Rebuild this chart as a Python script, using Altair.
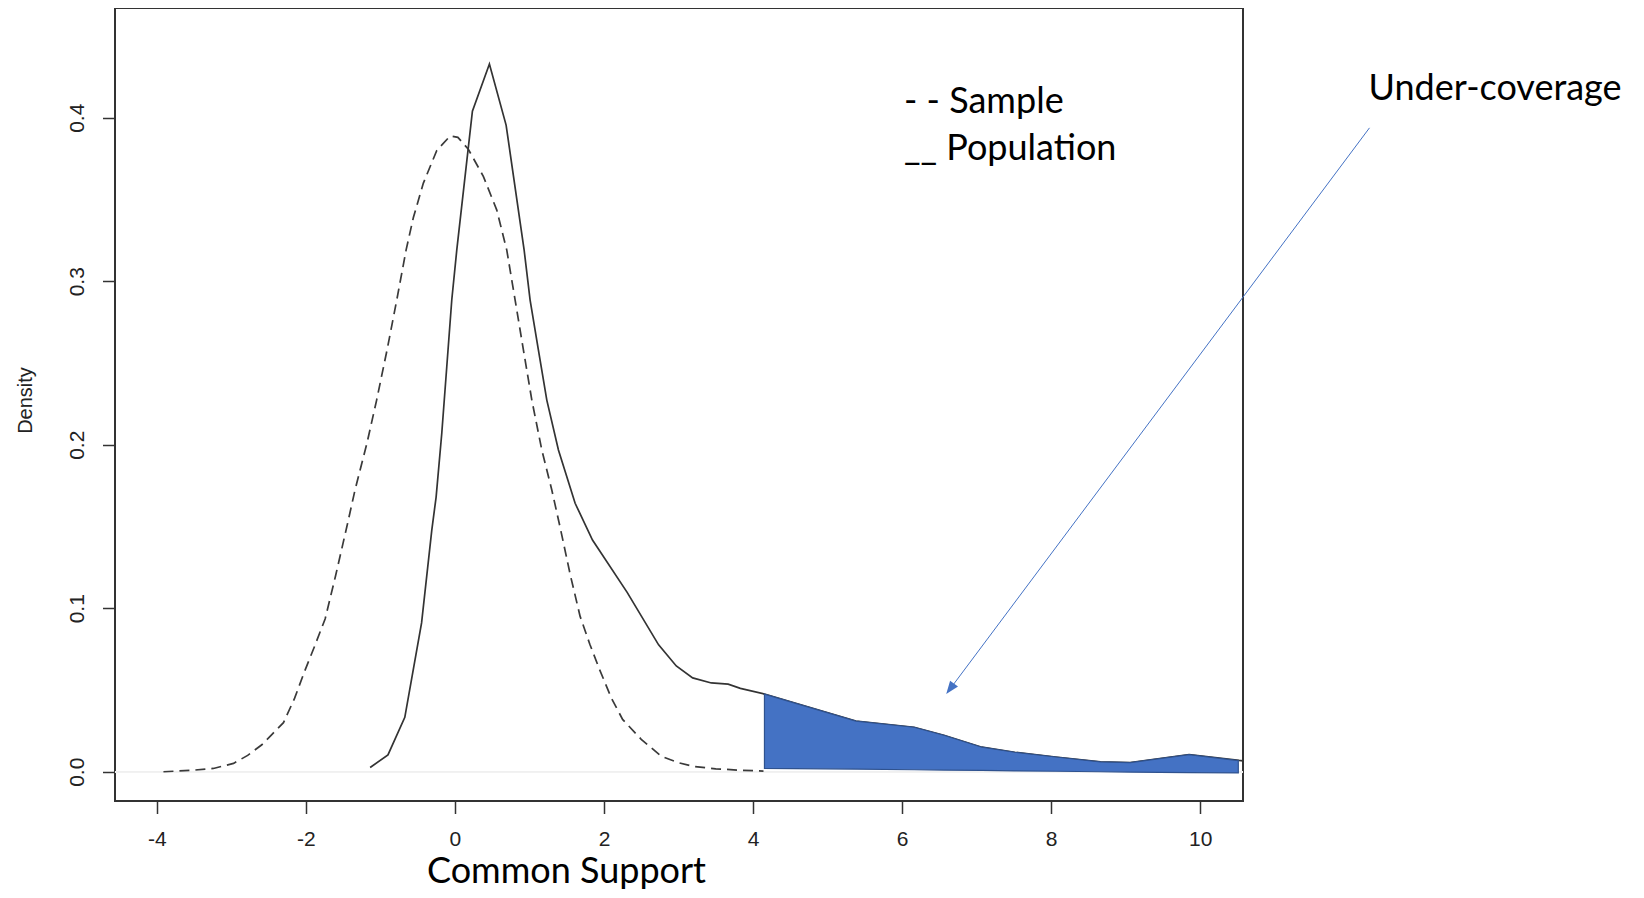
import altair as alt
import pandas as pd

# ---- data ----
sample_x = [-3.91, -3.55, -3.24, -2.97, -2.78, -2.59, -2.45, -2.30, -2.15, -2.02,
            -1.88, -1.74, -1.60, -1.45, -1.34, -1.18, -1.05, -0.91, -0.78, -0.655,
            -0.557, -0.423, -0.243, -0.064, 0.04, 0.18, 0.383, 0.562, 0.696, 0.808,
            0.919, 1.032, 1.166, 1.30, 1.41, 1.55, 1.68, 1.81, 1.94, 2.10,
            2.25, 2.50, 2.77, 3.00, 3.22, 3.50, 3.80, 4.14]
sample_y = [0.0000, 0.0008, 0.0020, 0.0051, 0.0100, 0.0165, 0.0230, 0.0300, 0.0450, 0.0610,
            0.0770, 0.0936, 0.1200, 0.1498, 0.1723, 0.2009, 0.2273, 0.2580, 0.2885, 0.3190,
            0.3390, 0.3600, 0.3800, 0.3888, 0.3880, 0.3807, 0.3640, 0.3435, 0.3190, 0.2885,
            0.2580, 0.2273, 0.1968, 0.1723, 0.1498, 0.1200, 0.0950, 0.0780, 0.0626, 0.0450,
            0.0320, 0.0198, 0.0094, 0.0055, 0.0031, 0.0018, 0.0010, 0.0004]

pop_x = [-1.137, -0.898, -0.672, -0.447, -0.310, -0.252, -0.176, -0.109, -0.042, 0.025,
         0.235, 0.463, 0.687, 0.929, 1.009, 1.120, 1.233, 1.389, 1.613, 1.846,
         2.311, 2.733, 2.970, 3.190, 3.440, 3.666, 3.830, 4.153, 5.380, 6.160,
         6.560, 7.070, 7.510, 8.060, 8.660, 9.060, 9.850, 10.520, 10.700]
pop_y = [0.0026, 0.0103, 0.0333, 0.0910, 0.1478, 0.1680, 0.2070, 0.2477, 0.2885, 0.3190,
         0.4040, 0.4328, 0.3955, 0.3190, 0.2885, 0.2580, 0.2273, 0.1968, 0.1642, 0.1417,
         0.1097, 0.0776, 0.0647, 0.0574, 0.0543, 0.0536, 0.0510, 0.0475, 0.0310, 0.0272,
         0.0223, 0.0150, 0.0119, 0.0090, 0.0060, 0.0056, 0.0104, 0.0069, 0.0062]

# under-coverage region (population tail beyond the sample support)
tail_x = [4.153, 5.380, 6.160, 6.560, 7.070, 7.510, 8.060, 8.660, 9.060, 9.850, 10.510]
tail_top = [0.0475, 0.0310, 0.0272, 0.0223, 0.0150, 0.0119, 0.0090, 0.0060, 0.0056, 0.0104, 0.0068]
tail_base = [0.0021, 0.0016, 0.0012, 0.0010, 0.0008, 0.0005, 0.0003, 0.0000, -0.0002, -0.0005, -0.0007]

x_ticks = [-4, -2, 0, 2, 4, 6, 8, 10]
y_ticks = [0.0, 0.1, 0.2, 0.3, 0.4]

legend_labels = ["- - Sample", "__ Population"]
legend_x = [6.025, 6.025]
legend_y = [0.4031, 0.3743]

note_label = ["Under-coverage"]
note_x = [12.258]
note_y = [0.4108]

arrow_start = (12.27, 0.3938)
arrow_end = (6.664, 0.0519)

x_domain = [-4.56, 10.573]
y_domain = [-0.0179, 0.4671]

# ---- tables ----
sample_df = pd.DataFrame({"x": sample_x, "y": sample_y})
pop_df = pd.DataFrame({"x": pop_x, "y": pop_y})
tail_df = pd.DataFrame({"x": tail_x, "top": tail_top, "base": tail_base})
legend_df = pd.DataFrame({"x": legend_x, "y": legend_y, "t": legend_labels})
note_df = pd.DataFrame({"x": note_x, "y": note_y, "t": note_label})
arrow_df = pd.DataFrame({"x": [arrow_start[0]], "y": [arrow_start[1]],
                         "x2": [arrow_end[0]], "y2": [arrow_end[1]]})
head_df = pd.DataFrame({"x": [arrow_end[0]], "y": [arrow_end[1]]})

xscale = alt.Scale(domain=x_domain, nice=False, zero=False)
yscale = alt.Scale(domain=y_domain, nice=False, zero=False)

x_axis = alt.Axis(
    values=x_ticks, labelExpr="'' + datum.value", grid=False, domain=False,
    ticks=True, tickSize=12.5, tickWidth=1.5, tickColor="#333333",
    labelFont="Liberation Sans", labelFontSize=21, labelColor="#222222",
    labelPadding=14.5, labelFlush=False,
    title="Common Support", titleFont="Lato", titleFontSize=36,
    titleFontWeight="normal", titleColor="#000000",
    titleX=451, titleY=81, titleAlign="center", titleBaseline="alphabetic",
)
y_axis = alt.Axis(
    values=y_ticks, format=".1f", grid=False, domain=False,
    ticks=True, tickSize=12.5, tickWidth=1.5, tickColor="#333333",
    labelFont="Liberation Sans", labelFontSize=21, labelColor="#222222",
    labelAngle=-90, labelAlign="center", labelBaseline="middle",
    labelPadding=25, labelFlush=False,
    title="Density", titleFont="Liberation Sans", titleFontSize=20,
    titleFontWeight="normal", titleColor="#222222", titleAngle=270,
    titleX=-90, titleY=392, titleAlign="center", titleBaseline="middle",
)

base_x = alt.X("x:Q", scale=xscale, axis=x_axis)
base_y = alt.Y("y:Q", scale=yscale, axis=y_axis)

zero_line = alt.Chart(pop_df).mark_rule(color="#f0f0f0", strokeWidth=1).encode(
    y=alt.datum(0, scale=yscale)
)

sample_line = alt.Chart(sample_df).mark_line(
    color="#3a3a3a", strokeWidth=1.7, strokeDash=[10, 6], clip=True
).encode(x=base_x, y=base_y)

pop_line = alt.Chart(pop_df).mark_line(
    color="#333333", strokeWidth=1.7, clip=True
).encode(x=base_x, y=base_y)

tail_area = alt.Chart(tail_df).mark_area(
    color="#4472C4", stroke="#2F528F", strokeWidth=1.2, opacity=1
).encode(x=alt.X("x:Q", scale=xscale), y=alt.Y("top:Q", scale=yscale),
         y2=alt.Y2("base:Q"))

legend_text = alt.Chart(legend_df).mark_text(
    font="Lato", fontSize=36, align="left", baseline="alphabetic", color="#000000"
).encode(x=alt.X("x:Q", scale=xscale), y=alt.Y("y:Q", scale=yscale), text="t:N")

note_text = alt.Chart(note_df).mark_text(
    font="Lato", fontSize=36, align="left", baseline="alphabetic", color="#000000"
).encode(x=alt.X("x:Q", scale=xscale), y=alt.Y("y:Q", scale=yscale), text="t:N")

arrow_line = alt.Chart(arrow_df).mark_rule(color="#4472C4", strokeWidth=1).encode(
    x=alt.X("x:Q", scale=xscale), y=alt.Y("y:Q", scale=yscale),
    x2="x2:Q", y2="y2:Q"
)

arrow_head = alt.Chart(head_df).mark_point(
    shape="M0,-1L0.55,0.45L-0.55,0.45Z", filled=True, fill="#4472C4",
    color="#4472C4", size=324, angle=216.8, opacity=1, strokeWidth=0
).encode(x=alt.X("x:Q", scale=xscale), y=alt.Y("y:Q", scale=yscale))

chart = alt.layer(
    zero_line, sample_line, pop_line, tail_area, arrow_line, arrow_head,
    legend_text, note_text
).properties(
    width=1128, height=793,
    autosize=alt.AutoSizeParams(type="none"),
    padding={"left": 107, "top": 0, "right": 390, "bottom": 88},
    background="white",
).configure_view(
    stroke="#333333", strokeWidth=2
)

chart.save("out.html", embed_options={"renderer": "svg", "actions": False})
